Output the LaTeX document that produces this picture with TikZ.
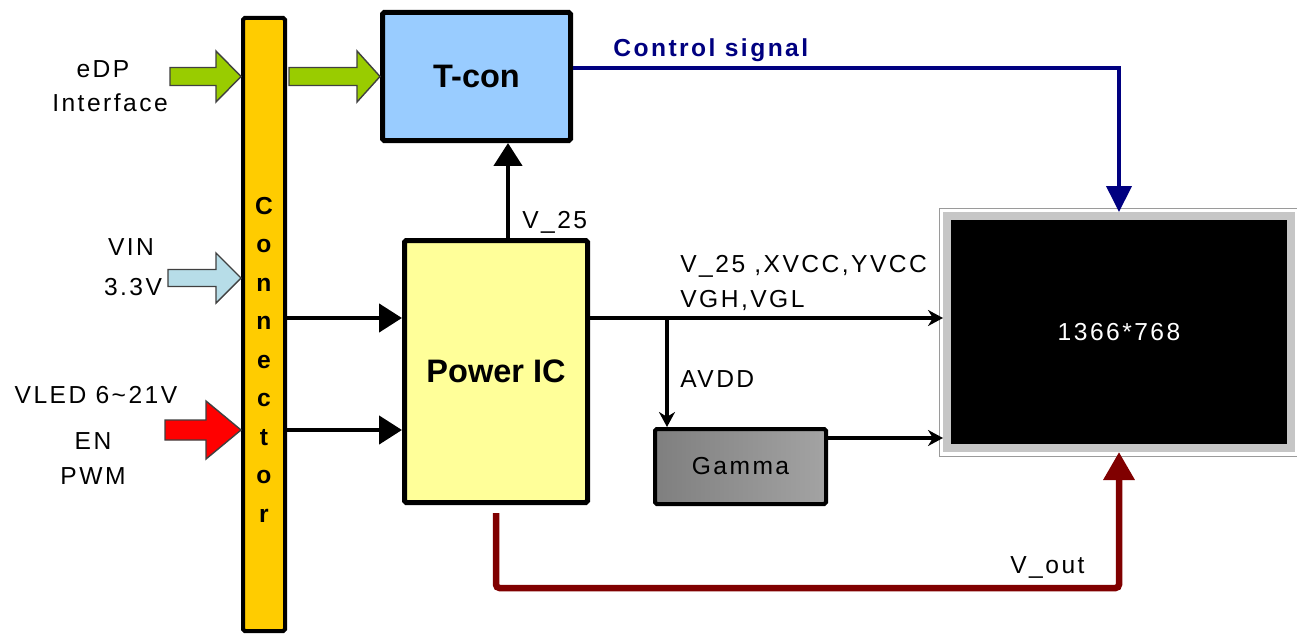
\documentclass[tikz,border=0pt]{standalone}
\usepackage{fontspec}
\setmainfont{Liberation Sans}
\newfontfamily\lblfont{Liberation Sans}[LetterSpace=10]
\usetikzlibrary{arrows.meta}
\definecolor{cBar}{HTML}{FFCC00}
\definecolor{cTcon}{HTML}{99CCFF}
\definecolor{cPower}{HTML}{FFFF99}
\definecolor{cGammaL}{HTML}{7F7F7F}
\definecolor{cGammaR}{HTML}{A3A3A3}
\definecolor{cFrame}{HTML}{C6C6C6}
\definecolor{cFrameEdge}{HTML}{9A9A9A}
\definecolor{cEdp}{HTML}{99CC00}
\definecolor{cVin}{HTML}{B7DDE8}
\definecolor{cVled}{HTML}{FF0000}
\definecolor{cCtrl}{HTML}{000080}
\definecolor{cVout}{HTML}{800000}
% fat input arrow: tip, length, head length, shaft half, head half, fill
\newcommand{\fatarrow}[6]{%
  \begin{scope}[shift={(#1)}]
    \filldraw[fill=#6, draw=black!75, line width=.8pt, line join=miter]
      (0,0) -- (-#3,-#5) -- (-#3,-#4) -- (-#2,-#4) -- (-#2,#4)
      -- (-#3,#4) -- (-#3,#5) -- cycle;
  \end{scope}}

\begin{document}
\begin{tikzpicture}[
  x=0.02cm, y=-0.02cm,
  block/.style={draw=black, line width=0.1cm, inner sep=0pt, rounded corners=1pt},
  connbar/.style={block, line width=0.08cm, fill=cBar,
    minimum width=42*0.02cm, minimum height=613*0.02cm},
  tconbox/.style={block, fill=cTcon, minimum width=188*0.02cm,
    minimum height=128*0.02cm, font=\bfseries\fontsize{18.5}{20}\selectfont},
  powerbox/.style={block, fill=cPower, minimum width=183*0.02cm,
    minimum height=262*0.02cm, font=\bfseries\fontsize{18.5}{20}\selectfont},
  gammabox/.style={block, line width=0.08cm, left color=cGammaL, right color=cGammaR,
    minimum width=171*0.02cm, minimum height=75*0.02cm, text=black,
    font=\lblfont\fontsize{14}{16}\selectfont},
  panelbox/.style={draw=cFrame, line width=0.16cm, fill=black, text=white,
    minimum width=344*0.02cm, minimum height=232*0.02cm, inner sep=0pt,
    font=\lblfont\fontsize{14}{16}\selectfont},
  connletter/.style={anchor=base, inner sep=0pt, font=\bfseries\fontsize{14}{16}\selectfont},
  lbl/.style={inner sep=0pt, font=\lblfont\fontsize{14}{16}\selectfont},
  ctrllbl/.style={lbl, text=cCtrl, font=\lblfont\bfseries\fontsize{14}{16}\selectfont},
  rail/.style={line width=0.09cm, -{Triangle[length=0.46cm,width=0.56cm]}},
  sig/.style={line width=0.07cm, -{Stealth[length=0.3cm,width=0.32cm]}},
  ctrl/.style={draw=cCtrl, line width=0.08cm, -{Triangle[length=0.52cm,width=0.5cm]}},
  vout/.style={draw=cVout, line width=0.13cm, rounded corners=2pt,
    -{Triangle[length=0.56cm,width=0.6cm]}},
]
\useasboundingbox[fill=white] (0,0) rectangle (1297,635);

% ---- helper rows and columns ---------------------------------------------
\coordinate (yA)    at (0,318);
\coordinate (yB)    at (0,430);
\coordinate (yGam)  at (0,438);
\coordinate (yCtl)  at (0,68);
\coordinate (yVin)  at (0,278);
\coordinate (xV25)  at (508,0);
\coordinate (xAvdd) at (667,0);

% ---- blocks ----------------------------------------------------------------
\node[connbar]  (conn)  at (264,324.5) {};
\node[tconbox]  (tcon)  at (476.5,76.5) {T-con};
\node[powerbox] (powic) at (496,371.5) {Power IC};
\node[gammabox] (gamma) at (740.5,466.5) {Gamma};
\node[panelbox] (panel) at (1119,332) {1366*768};
\draw[cFrameEdge, line width=.5pt]
  ([xshift=-0.08cm,yshift=0.08cm]panel.north west) rectangle
  ([xshift=0.08cm,yshift=-0.08cm]panel.south east);

% ---- connector lettering ---------------------------------------------------
\foreach \ch [count=\i] in {C,o,n,n,e,c,t,o,r}
  \node[connletter] (cl\i) at (264,{214.5+(\i-1)*38.45}) {\ch};

% ---- fat inputs --------------------------------------------------------------
\fatarrow{conn.west |- tcon.west}{71}{25}{9}{25.5}{cEdp}
\fatarrow{tcon.west}{91}{23}{9}{25.5}{cEdp}
\fatarrow{conn.west |- yVin}{73}{25}{8.5}{25}{cVin}
\fatarrow{conn.west |- yB}{76}{35}{10}{29}{cVled}

\node[lbl, anchor=base] (edplab)  at (103,78)  {eDP};
\node[lbl, anchor=base] (iflab)   at (110,112) {Interface};
\node[lbl, anchor=base] (vinlab)  at (131,255) {VIN};
\node[lbl, anchor=base] (v33lab)  at (133,295) {3.3V};
\node[lbl, anchor=base] (vledlab) at (96,403)  {VLED 6\textasciitilde21V};
\node[lbl, anchor=base] (enlab)   at (93,449)  {EN};
\node[lbl, anchor=base] (pwmlab)  at (93,484)  {PWM};

% ---- power rails -------------------------------------------------------------
\draw[rail] (conn.east |- yA) -- (powic.west |- yA);
\draw[rail] (conn.east |- yB) -- (powic.west |- yB);
\draw[rail] (powic.north -| xV25) -- (tcon.south -| xV25);
\node[lbl, anchor=base west] (v25lab) at (522,228) {V\_25};

% ---- signals to the panel ----------------------------------------------------
\draw[sig] (powic.east |- yA) -- (panel.west |- yA);
\draw[sig] (xAvdd |- yA) -- (gamma.north -| xAvdd);
\draw[sig] (gamma.east |- yGam) -- (panel.west |- yGam);
\node[lbl, anchor=base west] (raillab) at (680,272) {V\_25 ,XVCC,YVCC};
\node[lbl, anchor=base west] (vghlab)  at (680,307) {VGH,VGL};
\node[lbl, anchor=base west] (avddlab) at (680,387) {AVDD};

\draw[ctrl] (tcon.east |- yCtl) -| (panel.north);
\node[ctrllbl, anchor=base west] (ctrllab) at (613,57) {Control signal};

\draw[vout, shorten <=0.16cm] (powic.south) -- ++(0,83) -| (panel.south);
\node[lbl, anchor=base west] (voutlab) at (1010,573) {V\_out};
\end{tikzpicture}
\end{document}
